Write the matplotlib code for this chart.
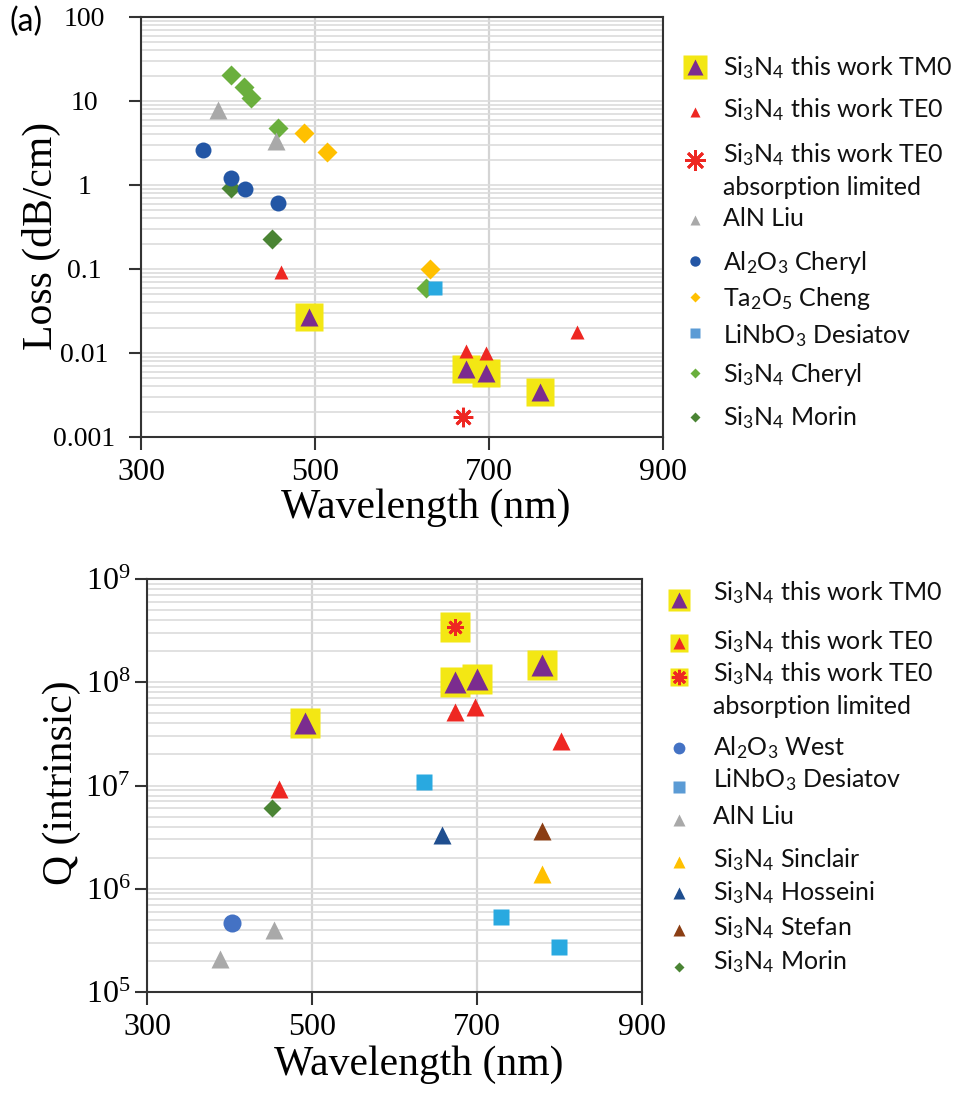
import math
import matplotlib
matplotlib.use("Agg")
import matplotlib.pyplot as plt
from matplotlib.ticker import FixedLocator, FuncFormatter, NullFormatter, LogLocator

# ---------------- propagation loss data (dB/cm) ----------------
tm0_loss_wl = [493, 673, 697, 759]
tm0_loss = [0.027, 0.0064, 0.0058, 0.0034]
te0_loss_wl = [461, 673, 697, 801]
te0_loss = [0.092, 0.0107, 0.0101, 0.018]
abs_loss_wl = [670]
abs_loss = [0.00174]
aln_loss_wl = [389, 455]
aln_loss = [7.8, 3.3]
al2o3_loss_wl = [371, 404, 419, 457]
al2o3_loss = [2.6, 1.2, 0.9, 0.61]
ta2o5_loss_wl = [487, 514, 632]
ta2o5_loss = [4.2, 2.5, 0.10]
linbo3_loss_wl = [638]
linbo3_loss = [0.06]
sin_cheryl_wl = [404, 418, 427, 458, 628]
sin_cheryl_loss = [20.4, 14.8, 10.8, 4.8, 0.06]
morin_loss_wl = [404, 450]
morin_loss = [0.93, 0.228]

# ---------------- intrinsic Q data ----------------
tm0_q_wl = [492, 673, 700, 779]
tm0_q = [4.0e7, 1.0e8, 1.07e8, 1.48e8]
te0_q_wl = [460, 673, 697, 802]
te0_q = [9.3e6, 5.2e7, 5.8e7, 2.7e7]
abs_q_wl = [673]
abs_q = [3.4e8]
al2o3_q_wl = [403]
al2o3_q = [4.7e5]
linbo3_q_wl = [636, 729, 799]
linbo3_q = [1.08e7, 5.3e5, 2.7e5]
aln_q_wl = [388, 454]
aln_q = [2.1e5, 4.0e5]
sinclair_q_wl = [779]
sinclair_q = [1.38e6]
hosseini_q_wl = [657]
hosseini_q = [3.3e6]
stefan_q_wl = [779]
stefan_q = [3.6e6]
morin_q_wl = [452]
morin_q = [6.0e6]

x_ticks = [300, 500, 700, 900]
loss_ticks = [100, 10, 1, 0.1, 0.01, 0.001]
q_ticks = [1e5, 1e6, 1e7, 1e8, 1e9]

SIN = r"Si$\mathregular{_3}$N$\mathregular{_4}$"
top_labels = [SIN + " this work TM0", SIN + " this work TE0",
              SIN + " this work TE0\nabsorption limited", "AlN Liu",
              r"Al$\mathregular{_2}$O$\mathregular{_3}$ Cheryl",
              r"Ta$\mathregular{_2}$O$\mathregular{_5}$ Cheng",
              r"LiNbO$\mathregular{_3}$ Desiatov", SIN + " Cheryl", SIN + " Morin"]
bottom_labels = [SIN + " this work TM0", SIN + " this work TE0",
                 SIN + " this work TE0\nabsorption limited",
                 r"Al$\mathregular{_2}$O$\mathregular{_3}$ West",
                 r"LiNbO$\mathregular{_3}$ Desiatov", "AlN Liu",
                 SIN + " Sinclair", SIN + " Hosseini", SIN + " Stefan", SIN + " Morin"]

PURPLE = "#7B2C8F"
YELLOW = "#F3E714"
RED = "#EE2722"
GRAY = "#A9A9A9"
NAVY_DOT = "#2356A5"
BLUE_DOT = "#4472C4"
ORANGE = "#FFC000"
CYAN = "#29A9E0"
LEGEND_SQ = "#5B9BD5"
LGREEN = "#6AAF3D"
DGREEN = "#4A8434"
DBLUE = "#1F4E8F"
BROWN = "#8B3E14"

SERIF = "Liberation Serif"
SANS = "Lato"

fig = plt.figure(figsize=(9.70, 10.93), dpi=100)
fig.patch.set_facecolor("white")


def style_axes(ax):
    ax.set_xlim(300, 900)
    ax.set_yscale("log")
    ax.xaxis.set_major_locator(FixedLocator(x_ticks))
    ax.yaxis.set_minor_locator(LogLocator(base=10, subs=range(2, 10), numticks=20))
    ax.yaxis.set_minor_formatter(NullFormatter())
    ax.grid(True, which="major", axis="x", color="#D4D4D4", lw=1.6, zorder=0)
    ax.grid(True, which="both", axis="y", color="#DCDCDC", lw=1.2, zorder=0)
    ax.set_axisbelow(True)
    for sp in ax.spines.values():
        sp.set_color("#333333")
        sp.set_linewidth(1.5)
    ax.tick_params(which="major", direction="out", length=9, width=1.5, color="#333333")
    ax.tick_params(which="minor", length=0)
    for lab in ax.get_xticklabels() + ax.get_yticklabels():
        lab.set_fontfamily(SERIF)


# ---------------- (a) loss ----------------
ax1 = fig.add_axes([141 / 970, 1 - 437 / 1093, 522 / 970, 420 / 1093])
style_axes(ax1)
ax1.set_ylim(0.001, 100)
ax1.yaxis.set_major_locator(FixedLocator(loss_ticks))
ax1.yaxis.set_major_formatter(FuncFormatter(lambda v, p: "%g" % v))
ax1.tick_params(axis="x", labelsize=23, pad=6)
ax1.tick_params(axis="y", labelsize=20, pad=32)
plt.setp(ax1.get_yticklabels(), ha="center", fontfamily=SERIF)

ax1.plot(tm0_loss_wl, tm0_loss, "s", ms=20, color=YELLOW, mec="none", zorder=2)
ax1.plot(sin_cheryl_wl, sin_cheryl_loss, "D", ms=10, color=LGREEN, mec="none", zorder=3)
ax1.plot(morin_loss_wl, morin_loss, "D", ms=10, color=DGREEN, mec="none", zorder=3)
ax1.plot(aln_loss_wl, aln_loss, "^", ms=13, color=GRAY, mec="none", zorder=3)
ax1.plot(al2o3_loss_wl, al2o3_loss, "o", ms=11.5, color=NAVY_DOT, mec="none", zorder=3)
ax1.plot(ta2o5_loss_wl, ta2o5_loss, "D", ms=10, color=ORANGE, mec="none", zorder=3)
ax1.plot(linbo3_loss_wl, linbo3_loss, "s", ms=9.5, color=CYAN, mec="none", zorder=3)
ax1.plot(te0_loss_wl, te0_loss, "^", ms=9.5, color=RED, mec="none", zorder=4)
ax1.plot(abs_loss_wl, abs_loss, marker=(8, 2, 0), ms=14, mew=2, color=RED, ls="none", zorder=4)
ax1.plot(tm0_loss_wl, tm0_loss, "^", ms=13, color=PURPLE, mec="none", zorder=5)

ax1.set_xlabel("Wavelength (nm)", fontsize=30, fontfamily=SERIF, va="center")
ax1.xaxis.set_label_coords(0.546, -0.169)
ax1.set_ylabel("Loss (dB/cm)", fontsize=30, fontfamily=SERIF, va="center")
ax1.yaxis.set_label_coords(-0.19, 0.479)

# ---------------- (b) intrinsic Q ----------------
ax2 = fig.add_axes([147 / 970, 1 - 992 / 1093, 495 / 970, 413 / 1093])
style_axes(ax2)
ax2.set_ylim(1e5, 1e9)
ax2.yaxis.set_major_locator(FixedLocator(q_ticks))
ax2.yaxis.set_major_formatter(
    FuncFormatter(lambda v, p: r"$\mathregular{10^{%d}}$" % round(math.log10(v))))
ax2.tick_params(axis="x", labelsize=23, pad=6)
ax2.tick_params(axis="y", labelsize=23, pad=3)

ax2.plot(tm0_q_wl, tm0_q, "s", ms=21, color=YELLOW, mec="none", zorder=2)
ax2.plot(abs_q_wl, abs_q, "s", ms=21, color=YELLOW, mec="none", zorder=2)
ax2.plot(al2o3_q_wl, al2o3_q, "o", ms=13, color=BLUE_DOT, mec="none", zorder=3)
ax2.plot(linbo3_q_wl, linbo3_q, "s", ms=11.5, color=CYAN, mec="none", zorder=3)
ax2.plot(aln_q_wl, aln_q, "^", ms=13, color=GRAY, mec="none", zorder=3)
ax2.plot(sinclair_q_wl, sinclair_q, "^", ms=13, color=ORANGE, mec="none", zorder=3)
ax2.plot(hosseini_q_wl, hosseini_q, "^", ms=13, color=DBLUE, mec="none", zorder=3)
ax2.plot(stefan_q_wl, stefan_q, "^", ms=13, color=BROWN, mec="none", zorder=3)
ax2.plot(morin_q_wl, morin_q, "D", ms=9, color=DGREEN, mec="none", zorder=3)
ax2.plot(te0_q_wl, te0_q, "^", ms=13, color=RED, mec="none", zorder=4)
ax2.plot(abs_q_wl, abs_q, marker=(8, 2, 0), ms=12, mew=2, color=RED, ls="none", zorder=4)
ax2.plot(tm0_q_wl, tm0_q, "^", ms=16, color=PURPLE, mec="none", zorder=5)

ax2.set_xlabel("Wavelength (nm)", fontsize=30, fontfamily=SERIF, va="center")
ax2.xaxis.set_label_coords(0.55, -0.177)
ax2.set_ylabel("Q (intrinsic)", fontsize=30, fontfamily=SERIF, va="center")
ax2.yaxis.set_label_coords(-0.172, 0.508)

# ---------------- hand-placed legends (figure pixel coordinates) ----------------
leg = fig.add_axes([0, 0, 1, 1], zorder=10)
leg.set_xlim(0, 970)
leg.set_ylim(1093, 0)
leg.axis("off")
leg.patch.set_visible(False)

# (marker, colour, size, yellow backing size)
top_keys = [("^", PURPLE, 11, 17), ("^", RED, 7.5, 0), ((8, 2, 0), RED, 15, 0),
            ("^", GRAY, 7.5, 0), ("o", NAVY_DOT, 7.5, 0), ("D", ORANGE, 5.5, 0),
            ("s", LEGEND_SQ, 7, 0), ("D", LGREEN, 5.5, 0), ("D", DGREEN, 5.5, 0)]
top_key_y = [67, 112, 160, 220, 261, 297, 333, 373, 417]
top_text_y = [68, 110, 153, 218, 262, 298, 336, 374, 418]

bottom_keys = [("^", PURPLE, 11, 16), ("^", RED, 8.5, 13), ((8, 2, 0), RED, 11, 13),
               ("o", BLUE_DOT, 8.5, 0), ("s", LEGEND_SQ, 8, 0), ("^", GRAY, 8.5, 0),
               ("^", ORANGE, 8.5, 0), ("^", DBLUE, 8.5, 0), ("^", BROWN, 8.5, 0),
               ("D", DGREEN, 5.5, 0)]
bottom_key_y = [600, 643, 677, 748, 787, 820, 862, 893, 930, 967]
bottom_text_y = [593, 642, 672, 748, 780, 816, 860, 893, 928, 962]


def draw_legend(keys, key_y, text_y, labels, key_x, text_x):
    for (mk, col, ms, back), ky, ty, lab in zip(keys, key_y, text_y, labels):
        if back:
            leg.plot(key_x, ky, "s", ms=back, color=YELLOW, mec="none")
        if isinstance(mk, tuple):
            leg.plot(key_x, ky, marker=mk, ms=ms, mew=2, color=col, ls="none")
        else:
            leg.plot(key_x, ky, marker=mk, ms=ms, color=col, mec="none", ls="none")
        # two-line labels: shift down so the first line sits on the row
        if "\n" in lab:
            ty += 17
        leg.text(text_x, ty, lab, fontsize=18, fontfamily=SANS, color="#111111",
                 va="center", ha="left", linespacing=1.4)


draw_legend(top_keys, top_key_y, top_text_y, top_labels, 695, 723)
draw_legend(bottom_keys, bottom_key_y, bottom_text_y, bottom_labels, 679, 713)

fig.text(10 / 970, 1 - 22 / 1093, "(a)", fontsize=23, fontfamily=SANS, va="center", ha="left")

fig.savefig("out.png", dpi=100)
